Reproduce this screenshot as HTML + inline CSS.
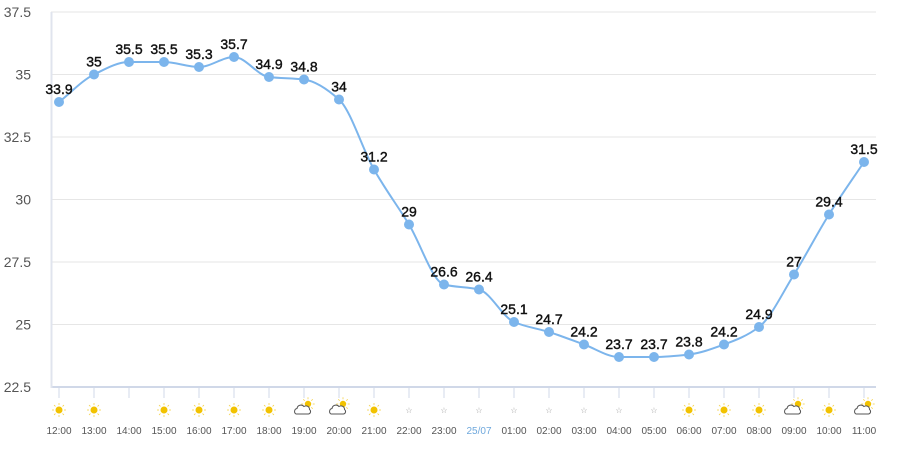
<!DOCTYPE html>
<html><head><meta charset="utf-8"><style>
body{margin:0;background:#fff;width:921px;height:457px;overflow:hidden}
svg{display:block;font-family:"Liberation Sans",sans-serif}
</style></head><body>
<svg id="c" width="921" height="457" xmlns="http://www.w3.org/2000/svg"></svg>
<script>
const d=[33.9,35,35.5,35.5,35.3,35.7,34.9,34.8,34,31.2,29,26.6,26.4,25.1,24.7,24.2,23.7,23.7,23.8,24.2,24.9,27,29.4,31.5];
const lab=["12:00","13:00","14:00","15:00","16:00","17:00","18:00","19:00","20:00","21:00","22:00","23:00","25/07","01:00","02:00","03:00","04:00","05:00","06:00","07:00","08:00","09:00","10:00","11:00"];
const ic="ss-sssscc"+"s"+"nnnnnnnn"+"sssc"+"sc";
const X=i=>59+i*35, Y=v=>12+(37.5-v)*25;
let s='';
for(let k=0;k<=6;k++){const v=37.5-k*2.5,y=Y(v);
 s+=`<line x1="51" x2="876" y1="${y}" y2="${y}" stroke="${k==6?'#d0d8e8':'#e6e6e6'}" stroke-width="${k==6?2:1}"/>`;
 s+=`<text x="31" y="${y+5}" text-anchor="end" font-size="14" fill="#555">${v}</text>`;}
s+=`<line x1="51.5" x2="51.5" y1="12" y2="388" stroke="#e0e4ee" stroke-width="2"/>`;
const n=d.length,P=d.map((v,i)=>[X(i),Y(v)]);let m=[];
const dl=[];for(let i=0;i<n-1;i++)dl.push((P[i+1][1]-P[i][1])/35);
for(let i=0;i<n;i++){if(i==0)m.push(dl[0]);else if(i==n-1)m.push(dl[n-2]);else m.push(dl[i-1]*dl[i]<=0?0:2/(1/dl[i-1]+1/dl[i]));}
let p=`M${P[0][0]},${P[0][1]}`;
for(let i=0;i<n-1;i++){const h=35/3;p+=`C${P[i][0]+h},${P[i][1]+m[i]*h} ${P[i+1][0]-h},${P[i+1][1]-m[i+1]*h} ${P[i+1][0]},${P[i+1][1]}`;}
s+=`<path d="${p}" fill="none" stroke="#7cb5ec" stroke-width="2"/>`;
function sun(x,y,r){let o=`<circle cx="${x}" cy="${y}" r="${r}" fill="#f2c200"/>`;for(let a=0;a<8;a++){const t=a*Math.PI/4;o+=`<line x1="${x+Math.cos(t)*(r+1.5)}" y1="${y+Math.sin(t)*(r+1.5)}" x2="${x+Math.cos(t)*(r+3.5)}" y2="${y+Math.sin(t)*(r+3.5)}" stroke="#f5d24a" stroke-width="0.8"/>`;}return o;}
for(let i=0;i<n;i++){const x=X(i);
 s+=`<circle cx="${x}" cy="${P[i][1]}" r="5" fill="#7cb5ec"/>`;
 s+=`<text x="${x}" y="${P[i][1]-8}" text-anchor="middle" font-size="14" fill="#111" stroke="#111" stroke-width="0.4">${d[i]}</text>`;
 s+=`<line x1="${x}" x2="${x}" y1="388" y2="398" stroke="#d0d8e8"/>`;
 s+=`<text x="${x}" y="434" text-anchor="middle" font-size="10" fill="${i==12?'#6fa8dc':'#555'}">${lab[i]}</text>`;
 const c=ic[i],y=410;
 if(c=='s')s+=sun(x,y,3.5);
 else if(c=='n')s+=`<text x="${x}" y="${y+3}" text-anchor="middle" font-size="8" fill="#999">☆</text>`;
 else if(c=='c'){s+=sun(x+4,y-6,3.2);s+=`<path d="M${x-8},${y+4} a3,3 0 0 1 1,-5.5 a4,4 0 0 1 7,-2 a3.5,3.5 0 0 1 5.5,3 a2.5,2.5 0 0 1 -1,4.5 z" fill="#fff" stroke="#555" stroke-width="1"/>`;}
}
document.getElementById('c').innerHTML=s;
</script>
</body></html>
